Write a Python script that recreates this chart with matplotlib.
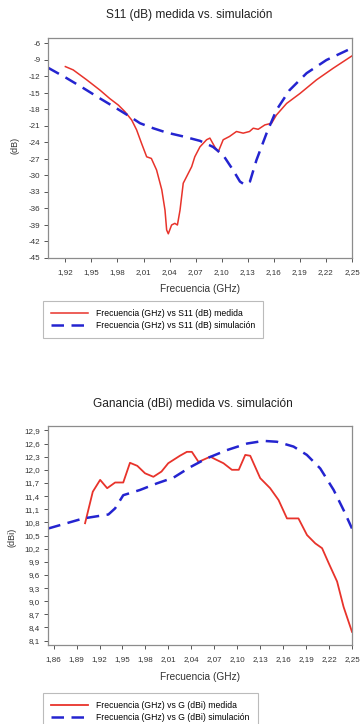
import matplotlib
matplotlib.use("Agg")
import matplotlib.pyplot as plt
from matplotlib.ticker import FuncFormatter

plt.rcParams['font.family'] = ['Liberation Sans', 'DejaVu Sans']

# S11 data
s11_med_f = [1.920, 1.929, 1.9445, 1.960, 1.971, 1.981, 1.9886, 1.9963, 2.002, 2.0078,
             2.0136, 2.019, 2.025, 2.031, 2.0347, 2.0366, 2.0385, 2.0423, 2.046, 2.049,
             2.052, 2.0557, 2.0596, 2.0654, 2.069, 2.0749, 2.0826, 2.0864, 2.092, 2.096,
             2.1017, 2.109, 2.117, 2.1247, 2.132, 2.1363, 2.142, 2.1497, 2.1574, 2.163,
             2.1747, 2.190, 2.2092, 2.2283, 2.2495]
s11_med_db = [-10.2, -10.8, -12.6, -14.5, -16.0, -17.2, -18.4, -19.9, -21.7, -24.2,
              -26.6, -26.9, -29.0, -32.6, -36.3, -39.9, -40.6, -39.0, -38.7, -39.0,
              -36.3, -31.4, -30.2, -28.4, -26.6, -24.8, -23.5, -23.2, -24.8, -25.7,
              -23.5, -22.9, -22.0, -22.3, -22.0, -21.4, -21.6, -20.8, -20.5, -19.0,
              -16.9, -15.1, -12.6, -10.5, -8.3]
s11_sim_f = [1.900, 1.9215, 1.9406, 1.960, 1.979, 1.9944, 2.006, 2.021, 2.0366, 2.0557,
             2.075, 2.090, 2.1017, 2.113, 2.121, 2.1267, 2.1325, 2.140, 2.1517, 2.163,
             2.178, 2.1977, 2.2206, 2.249]
s11_sim_db = [-10.4, -12.3, -14.1, -16.0, -17.8, -19.3, -20.5, -21.4, -22.2, -22.9,
              -23.7, -24.8, -26.3, -29.0, -31.1, -31.7, -31.1, -27.2, -22.3, -18.1,
              -14.5, -11.4, -9.0, -6.9]

# Gain data
g_med_f = [1.9011, 1.9112, 1.9208, 1.930, 1.9404, 1.951, 1.9598, 1.9694, 1.9795, 1.9904,
           2.001, 2.0098, 2.025, 2.0342, 2.0407, 2.0494, 2.0648, 2.0714, 2.082, 2.093,
           2.102, 2.1105, 2.117, 2.130, 2.143, 2.154, 2.165, 2.180, 2.1912, 2.202,
           2.2109, 2.2195, 2.2305, 2.239, 2.250]
g_med = [10.78, 11.50, 11.77, 11.58, 11.71, 11.71, 12.16, 12.09, 11.92, 11.84,
         11.96, 12.15, 12.32, 12.41, 12.41, 12.18, 12.30, 12.24, 12.15, 12.00,
         12.00, 12.34, 12.32, 11.81, 11.58, 11.31, 10.89, 10.89, 10.51, 10.32,
         10.21, 9.87, 9.45, 8.87, 8.30]
g_sim_f = [1.853, 1.8989, 1.9316, 1.9404, 1.951, 1.973, 1.995, 2.0166, 2.0385, 2.060,
           2.0866, 2.113, 2.1345, 2.152, 2.1736, 2.191, 2.2085, 2.226, 2.239, 2.250]
g_sim = [10.66, 10.89, 10.98, 11.12, 11.42, 11.54, 11.69, 11.82, 12.06, 12.26,
         12.45, 12.60, 12.66, 12.64, 12.53, 12.34, 12.03, 11.54, 11.08, 10.66]

s11_xticks = [1.92, 1.95, 1.98, 2.01, 2.04, 2.07, 2.10, 2.13, 2.16, 2.19, 2.22, 2.25]
s11_yticks = list(range(-45, -5, 3))
g_xticks = [1.86, 1.89, 1.92, 1.95, 1.98, 2.01, 2.04, 2.07, 2.10, 2.13, 2.16, 2.19, 2.22, 2.25]
g_yticks = [8.1 + 0.3 * i for i in range(17)]

RED = '#e8332b'
BLUE = '#2424d0'
W, H = 360, 724
fig = plt.figure(figsize=(W / 100, H / 100), dpi=100)


def fx(px):
    return px / W


def fy(py):
    return 1 - py / H


def style_axes(ax, xt, yt, xfmt, yfmt):
    for s in ax.spines.values():
        s.set_color('#8c8c8c')
        s.set_linewidth(0.9)
    ax.set_xticks(xt)
    ax.set_yticks(yt)
    ax.xaxis.set_major_formatter(FuncFormatter(lambda v, p: (xfmt % v).replace('.', ',')))
    ax.yaxis.set_major_formatter(FuncFormatter(lambda v, p: (yfmt % v).replace('.', ',')))
    ax.tick_params(axis='both', direction='out', length=3, width=0.7, color='#555555',
                   labelsize=5.8, labelcolor='#333333', pad=2.5)
    ax.tick_params(axis='x', pad=5)


LEGKW = dict(loc='upper left', fontsize=6.2, frameon=True, fancybox=False,
             edgecolor='#aaaaaa', handlelength=4.3, handletextpad=1.0, borderpad=0.9,
             labelspacing=0.35, borderaxespad=0)

# Top chart
ax1 = fig.add_axes([fx(48), fy(258), fx(352 - 48), (258 - 38) / H])
l1, = ax1.plot(s11_med_f, s11_med_db, color=RED, lw=1.1)
l2, = ax1.plot(s11_sim_f, s11_sim_db, color=BLUE, lw=1.8, dashes=(5, 3))
ax1.set_xlim(1.90, 2.25)
ax1.set_ylim(-45, -5)
style_axes(ax1, s11_xticks, s11_yticks, '%.2f', '%d')
fig.text(fx(189), fy(15), 'S11 (dB) medida vs. simulación', ha='center', va='center',
         fontsize=8.6, color='#222222')
fig.text(fx(200), fy(289), 'Frecuencia (GHz)', ha='center', va='center', fontsize=7.3,
         color='#333333')
fig.text(fx(15), fy(145), '(dB)', ha='center', va='center', rotation=90, fontsize=6.5,
         color='#333333')
leg1 = fig.legend([l1, l2], ['Frecuencia (GHz) vs S11 (dB) medida',
                             'Frecuencia (GHz) vs S11 (dB) simulación'],
                  bbox_to_anchor=(fx(43), fy(301)), **LEGKW)
leg1.get_frame().set_linewidth(0.8)

# Bottom chart
ax2 = fig.add_axes([fx(47.5), fy(645), fx(352 - 47.5), (645 - 426) / H])
l3, = ax2.plot(g_med_f, g_med, color=RED, lw=1.3)
l4, = ax2.plot(g_sim_f, g_sim, color=BLUE, lw=1.8, dashes=(5, 3))
ax2.set_xlim(1.852, 2.25)
ax2.set_ylim(8.0, 13.0)
style_axes(ax2, g_xticks, g_yticks, '%.2f', '%.1f')
fig.text(fx(193), fy(404), 'Ganancia (dBi) medida vs. simulación', ha='center', va='center',
         fontsize=8.6, color='#222222')
fig.text(fx(200), fy(677), 'Frecuencia (GHz)', ha='center', va='center', fontsize=7.3,
         color='#333333')
fig.text(fx(12), fy(537), '(dBi)', ha='center', va='center', rotation=90, fontsize=6.5,
         color='#333333')
leg2 = fig.legend([l3, l4], ['Frecuencia (GHz) vs G (dBi) medida',
                             'Frecuencia (GHz) vs G (dBi) simulación'],
                  bbox_to_anchor=(fx(43), fy(693)), **LEGKW)
leg2.get_frame().set_linewidth(0.8)

fig.savefig('out.png', dpi=100, facecolor='white')
